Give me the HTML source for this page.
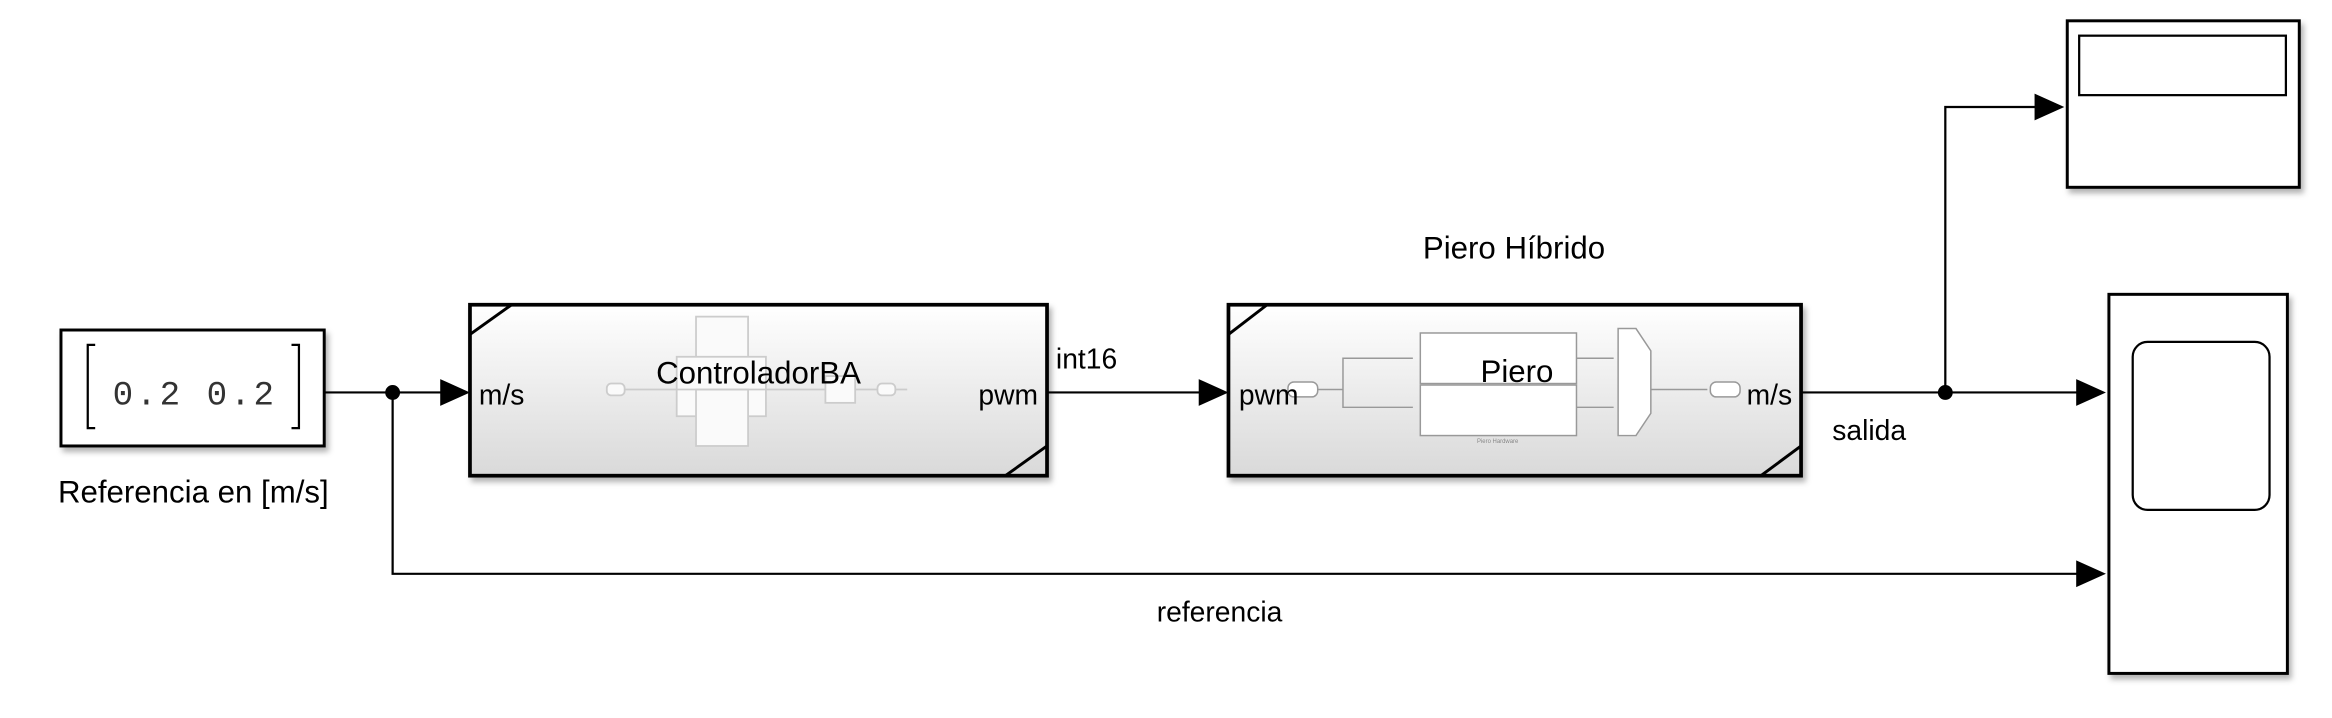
<!DOCTYPE html>
<html><head><meta charset="utf-8"><style>
html,body{margin:0;padding:0;background:#fff;}
svg{display:block;}
text{font-family:"Liberation Sans",sans-serif;fill:#000;}
</style></head><body>
<svg width="2332" height="718" viewBox="0 0 1568 483" preserveAspectRatio="none" xmlns="http://www.w3.org/2000/svg">
<defs>
<linearGradient id="g" x1="0" y1="0" x2="0" y2="1">
<stop offset="0" stop-color="#ffffff"/><stop offset="1" stop-color="#d9d9d9"/>
</linearGradient>
<filter id="sh" x="-5%" y="-5%" width="112%" height="115%">
<feDropShadow dx="2" dy="3" stdDeviation="2" flood-color="#000" flood-opacity="0.3"/>
</filter>
</defs>
<rect x="41" y="222" width="177" height="78" fill="#fff" stroke="#000" stroke-width="2" filter="url(#sh)"/>
<path d="M64 232 h-5 v56 h5 M196 232 h5 v56 h-5" fill="none" stroke="#000" stroke-width="1.5"/>
<text x="131" y="272" font-size="23" text-anchor="middle" fill="#333" letter-spacing="2" style="font-family:'Liberation Mono',monospace;fill:#333">0.2 0.2</text>
<text x="130" y="338" font-size="21" text-anchor="middle">Referencia en [m/s]</text>
<g stroke="#000" stroke-width="1.5" fill="none">
<line x1="218" y1="264" x2="300" y2="264"/>
<polyline points="264,264 264,386 1400,386"/>
<line x1="704" y1="264" x2="810" y2="264"/>
<line x1="1211" y1="264" x2="1400" y2="264"/>
<polyline points="1308,264 1308,72 1372,72"/>
</g>
<circle cx="264" cy="264" r="5" fill="#000"/>
<circle cx="1308" cy="264" r="5" fill="#000"/>
<g fill="#000">
<polygon points="296,255 316,264 296,273"/>
<polygon points="806,255 826,264 806,273"/>
<polygon points="1396,255 1416,264 1396,273"/>
<polygon points="1396,377 1416,386 1396,395"/>
<polygon points="1368,63 1388,72 1368,81"/>
</g>
<rect x="316" y="205" width="388" height="115" fill="url(#g)" stroke="#000" stroke-width="2.5" filter="url(#sh)"/>
<g stroke="#ccc" stroke-width="1.2" fill="#fafafa">
<rect x="468" y="213" width="35" height="40"/>
<rect x="455" y="240" width="60" height="40"/>
<rect x="468" y="262" width="35" height="38"/>
<line x1="410" y1="262" x2="610" y2="262"/>
<rect x="408" y="258" width="12" height="8" rx="3"/>
<rect x="590" y="258" width="12" height="8" rx="3"/>
<rect x="555" y="253" width="20" height="18"/>
</g>
<line x1="316" y1="225" x2="344" y2="205" stroke="#000" stroke-width="2"/>
<line x1="676" y1="320" x2="704" y2="300" stroke="#000" stroke-width="2"/>
<text x="510" y="258" font-size="21" text-anchor="middle">ControladorBA</text>
<text x="322" y="272" font-size="19">m/s</text>
<text x="698" y="272" font-size="19" text-anchor="end">pwm</text>
<text x="710" y="248" font-size="19">int16</text>
<text x="1018" y="174" font-size="21" text-anchor="middle">Piero Híbrido</text>
<rect x="826" y="205" width="385" height="115" fill="url(#g)" stroke="#000" stroke-width="2.5" filter="url(#sh)"/>
<g stroke="#999" stroke-width="1" fill="#fff">
<rect x="955" y="224" width="105" height="34"/>
<rect x="955" y="259" width="105" height="34"/>
<polygon points="1088,221 1100,221 1110,236 1110,278 1100,293 1088,293"/>
<rect x="866" y="257" width="20" height="10" rx="4"/>
<rect x="1150" y="257" width="20" height="10" rx="4"/>
<polyline points="886,262 903,262" fill="none"/>
<polyline points="950,241 903,241 903,274 950,274" fill="none"/>
<line x1="1060" y1="241" x2="1085" y2="241"/>
<line x1="1060" y1="274" x2="1085" y2="274"/>
<line x1="1110" y1="262" x2="1148" y2="262"/>
</g>
<text x="1007" y="298" font-size="4" text-anchor="middle" style="fill:#888">Piero Hardware</text>
<line x1="826" y1="225" x2="852" y2="205" stroke="#000" stroke-width="2"/>
<line x1="1184" y1="320" x2="1211" y2="300" stroke="#000" stroke-width="2"/>
<text x="1020" y="257" font-size="21" text-anchor="middle">Piero</text>
<text x="833" y="272" font-size="19">pwm</text>
<text x="1205" y="272" font-size="19" text-anchor="end">m/s</text>
<text x="1232" y="296" font-size="19">salida</text>
<text x="820" y="418" font-size="19" text-anchor="middle">referencia</text>
<rect x="1390" y="14" width="156" height="112" fill="#fff" stroke="#000" stroke-width="2" filter="url(#sh)"/>
<rect x="1398" y="24" width="139" height="40" fill="#fff" stroke="#000" stroke-width="1.5"/>
<rect x="1418" y="198" width="120" height="255" fill="#fff" stroke="#000" stroke-width="2" filter="url(#sh)"/>
<rect x="1434" y="230" width="92" height="113" rx="10" fill="#fff" stroke="#000" stroke-width="1.5"/>
</svg>
</body></html>
